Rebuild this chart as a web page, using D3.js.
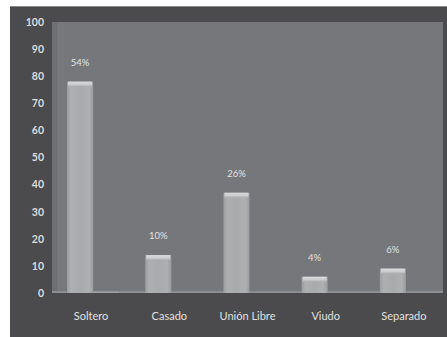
<!DOCTYPE html>
<html>
<head>
<meta charset="utf-8">
<script src="https://cdn.jsdelivr.net/npm/d3@7"></script>
<style>
  body { margin: 0; background: #fff; }
  text { font-family: Lato, "Open Sans", sans-serif; }
</style>
</head>
<body>
<div id="chart"></div>
<script>
// Estado civil: counts per category, labels show share of total
const categories = ["Soltero", "Casado", "Unión Libre", "Viudo", "Separado"];
const counts = [78, 14, 37, 6, 9];
const percentLabels = ["54%", "10%", "26%", "4%", "6%"];
const series2 = [0.5, 0, 0, 0, 0];
const yTicks = [0, 10, 20, 30, 40, 50, 60, 70, 80, 90, 100];

const width = 447, height = 337;
const plot = { left: 52, right: 443, top: 22, bottom: 293 };

const svg = d3.select("#chart").append("svg")
  .attr("width", width)
  .attr("height", height);

const defs = svg.append("defs");
const barGrad = defs.append("linearGradient")
  .attr("id", "barGrad")
  .attr("x1", "0%").attr("x2", "100%").attr("y1", "0%").attr("y2", "0%");
[[0, "#9c9d9f"], [0.15, "#aeafb1"], [0.5, "#a9aaac"], [0.85, "#aeafb1"], [1, "#9a9b9d"]]
  .forEach(([o, c]) => barGrad.append("stop").attr("offset", `${o * 100}%`).attr("stop-color", c));

const capGrad = defs.append("linearGradient")
  .attr("id", "capGrad")
  .attr("x1", "0%").attr("x2", "0%").attr("y1", "0%").attr("y2", "100%");
[[0, "#d8d9da"], [0.5, "#cfd0d1"], [1, "#aeafb1"]]
  .forEach(([o, c]) => capGrad.append("stop").attr("offset", `${o * 100}%`).attr("stop-color", c));

// outer chart area
svg.append("rect")
  .attr("x", 10).attr("y", 6)
  .attr("width", width - 10).attr("height", height - 6)
  .attr("fill", "#4b4b4d");
svg.append("line")
  .attr("x1", 10).attr("x2", width).attr("y1", 6.5).attr("y2", 6.5)
  .attr("stroke", "#8a8a8c");

// plot area
svg.append("rect")
  .attr("x", plot.left).attr("y", plot.top)
  .attr("width", plot.right - plot.left).attr("height", plot.bottom - plot.top)
  .attr("fill", "#76777a");
svg.append("rect")
  .attr("x", plot.left).attr("y", plot.top)
  .attr("width", 5).attr("height", plot.bottom - plot.top)
  .attr("fill", "#6e6f72");
svg.append("rect")
  .attr("x", plot.left).attr("y", plot.bottom - 2)
  .attr("width", plot.right - plot.left).attr("height", 2)
  .attr("fill", "#8d8e91");

const x = d3.scaleBand().domain(categories).range([plot.left, plot.right]);
const xSub = d3.scaleBand().domain(["s1", "s2"]).range([2, x.bandwidth() + 2])
  .paddingInner(0).paddingOuter(0.5);
const y = d3.scaleLinear().domain([0, 100]).range([plot.bottom, plot.top]);

// y axis
const yAxis = d3.axisLeft(y).tickValues(yTicks).tickSize(0).tickPadding(8);
const yg = svg.append("g").attr("transform", `translate(${plot.left},0)`).call(yAxis);
yg.select(".domain").remove();
yg.selectAll("text")
  .attr("fill", "#dcdcdc")
  .style("font-size", "10.5px")
  .style("font-weight", "bold");

// x axis
const xAxis = d3.axisBottom(x).tickSize(0).tickPadding(19);
const xg = svg.append("g").attr("transform", `translate(0,${plot.bottom})`).call(xAxis);
xg.select(".domain").remove();
xg.selectAll("text")
  .attr("fill", "#e0e0e0")
  .style("font-size", "11px");

const rows = categories.map((c, i) => ({ c, v: counts[i], v2: series2[i], label: percentLabels[i] }));

// bars
const bars = svg.append("g").selectAll("g")
  .data(rows)
  .enter()
  .append("g");

bars.append("rect")
  .attr("x", (d) => x(d.c) + xSub("s1"))
  .attr("y", (d) => y(d.v))
  .attr("width", xSub.bandwidth())
  .attr("height", (d) => y(0) - y(d.v))
  .attr("fill", "url(#barGrad)");

bars.append("rect")
  .attr("x", (d) => x(d.c) + xSub("s1") + 1)
  .attr("y", (d) => y(d.v))
  .attr("width", xSub.bandwidth() - 2)
  .attr("height", 5)
  .attr("fill", "url(#capGrad)");

bars.append("rect")
  .attr("x", (d) => x(d.c) + xSub("s2"))
  .attr("y", (d) => y(d.v2))
  .attr("width", xSub.bandwidth())
  .attr("height", (d) => y(0) - y(d.v2))
  .attr("fill", "#9fa0a2");

// value labels
bars.append("text")
  .attr("x", (d) => x(d.c) + xSub("s1") + xSub.bandwidth() / 2)
  .attr("y", (d) => y(d.v) - 16)
  .attr("text-anchor", "middle")
  .attr("fill", "#e2e2e2")
  .style("font-size", "9.5px")
  .text((d) => d.label);
</script>
</body>
</html>
